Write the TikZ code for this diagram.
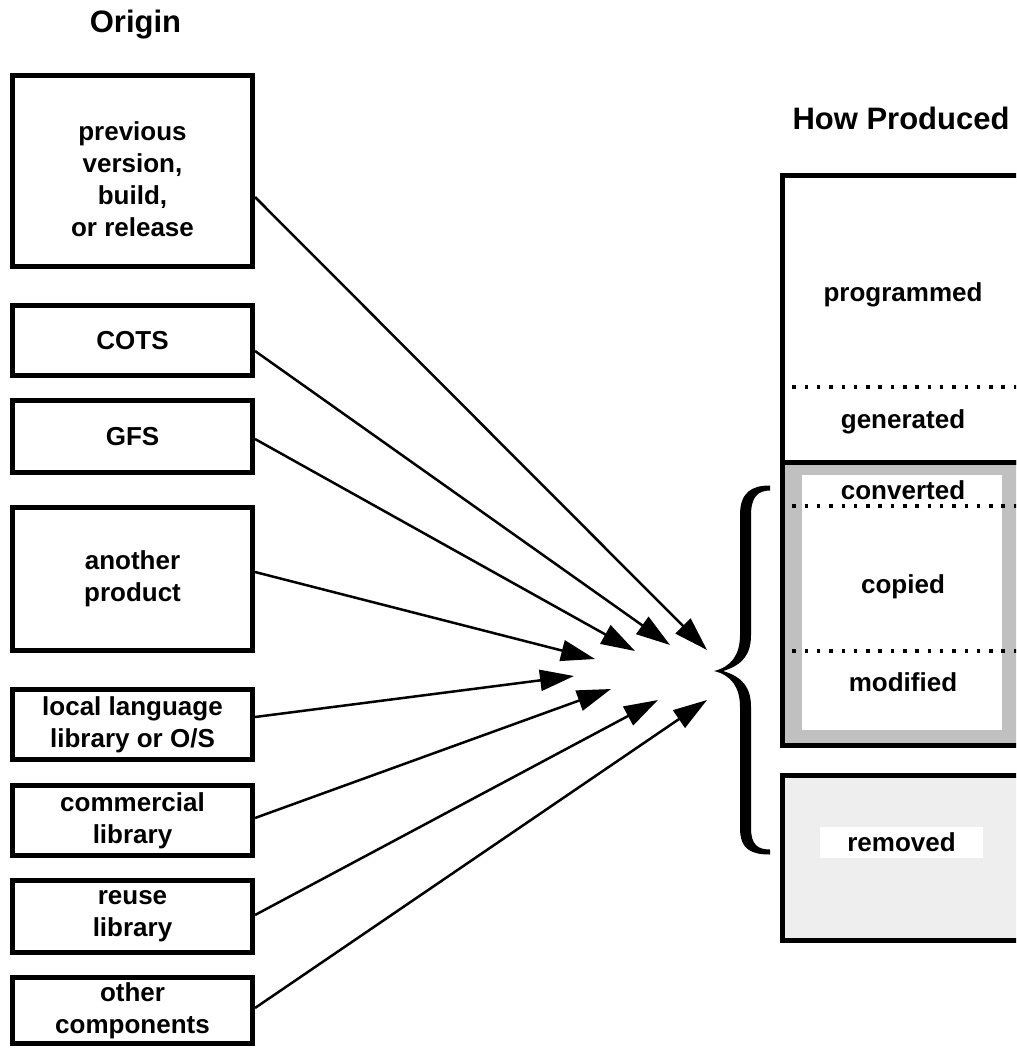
\documentclass[tikz,border=0pt]{standalone}
\usepackage{fontspec}
\setmainfont{Liberation Sans}
\usetikzlibrary{arrows.meta}
\definecolor{midgray}{RGB}{192,192,192}
\definecolor{palegray}{RGB}{238,238,238}
\newcommand\labfont{\fontsize{26}{32}\selectfont\bfseries}
\newcommand\titlefont{\fontsize{31}{36}\selectfont\bfseries}
\begin{document}
\begin{tikzpicture}[x=1pt,y=-1pt,
  box/.style={draw, line width=5pt, fill=white, minimum width=240pt, inner sep=0pt, align=center, font=\labfont},
  rbox/.style={draw, line width=5pt, minimum width=257.5pt, inner sep=0pt},
  lbl/.style={font=\labfont, inner sep=0pt, align=center},
  ttl/.style={font=\titlefont, inner sep=0pt},
  dotline/.style={line width=3.5pt, dash pattern=on 3.5pt off 8.8pt},
  arr/.style={line width=2.5pt, -{Triangle[length=34pt,width=21pt]}}]
\useasboundingbox (0,0) rectangle (1016,1048);
\clip (0,0) rectangle (1016,1048);

% titles
\node[ttl] (origin) at (135.5,25) {Origin};
\node[ttl] (how) at (901,118) {How Produced};

% left boxes
\node[box, minimum height=191pt] (prev) at (132.5,171) {};
\node[lbl] (prevtxt) at ([yshift=-8pt]prev.center) {previous\\version,\\build,\\or release};
\node[box, minimum height=70pt] (cots) at (132.5,340.5) {COTS};
\node[box, minimum height=72pt] (gfs) at (132.5,436.5) {GFS};
\node[box, minimum height=143pt] (another) at (132.5,579) {another\\product};
\node[box, minimum height=70pt] (local) at (132.5,724.5) {local language\\library or O/S};
\node[box, minimum height=70pt] (comm) at (132.5,820.5) {commercial\\library};
\node[box, minimum height=72pt] (reuse) at (132.5,916.5) {reuse\\library};
\node[box, minimum height=66pt] (other) at (132.5,1010.5) {other\\components};

% right column
\node[rbox, fill=white, minimum height=286.5pt] (topbox) at (911.25,318.75) {};
\node[rbox, fill=midgray, minimum height=283.5pt] (graybox) at (911.25,603.75) {};
\node[fill=white, inner sep=0pt, minimum width=200pt, minimum height=255pt] (inner) at (902,602.5) {};
\node[rbox, fill=palegray, minimum height=165pt] (rembox) at (911.25,858) {};

\draw[dotline] (topbox.west |- 0,387) -- (topbox.east |- 0,387);
\draw[dotline] (graybox.west |- 0,506) -- (graybox.east |- 0,506);
\draw[dotline] (graybox.west |- 0,651) -- (graybox.east |- 0,651);

\node[lbl] (prog) at (903,295) {programmed};
\node[lbl] (gen) at (903,422) {generated};
\node[lbl] (conv) at (903,490) {converted};
\node[lbl] (copied) at (903,587) {copied};
\node[lbl] (modif) at (903,682) {modified};
\node[lbl, fill=white, minimum width=163pt, minimum height=31pt] (removed) at (901.5,842.5) {removed};

% brace (filled, thick in the middle, thin at the ends)
\fill (770,485.5) .. controls (752,485.5) and (740,492) .. (740,515) -- (740,635)
  .. controls (740,655) and (731,667) .. (714,671)
  .. controls (731,675) and (740,687) .. (740,707) -- (740,828)
  .. controls (740,850) and (752,854.5) .. (770,854.5) -- (770,849.5)
  .. controls (758,849.5) and (751,845) .. (751,828) -- (751,707)
  .. controls (751,688) and (743,677) .. (723,671)
  .. controls (743,665) and (751,654) .. (751,635) -- (751,515)
  .. controls (751,497) and (758,490.5) .. (770,490.5) -- cycle;

% arrow targets
\coordinate (t1) at (707,650);
\coordinate (t2) at (670,645);
\coordinate (t3) at (635,651);
\coordinate (t4) at (595,659);
\coordinate (t5) at (574,676);
\coordinate (t6) at (611,689);
\coordinate (t7) at (658,700);
\coordinate (t8) at (707,700);

\draw[arr] ([yshift=-26pt]prev.east) -- (t1);
\draw[arr] ([yshift=-10.5pt]cots.east) -- (t2);
\draw[arr] ([yshift=-2.5pt]gfs.east) -- (t3);
\draw[arr] ([yshift=7pt]another.east) -- (t4);
\draw[arr] ([yshift=7.5pt]local.east) -- (t5);
\draw[arr] ([yshift=2.5pt]comm.east) -- (t6);
\draw[arr] ([yshift=1.5pt]reuse.east) -- (t7);
\draw[arr] ([yshift=2.5pt]other.east) -- (t8);
\end{tikzpicture}
\end{document}
